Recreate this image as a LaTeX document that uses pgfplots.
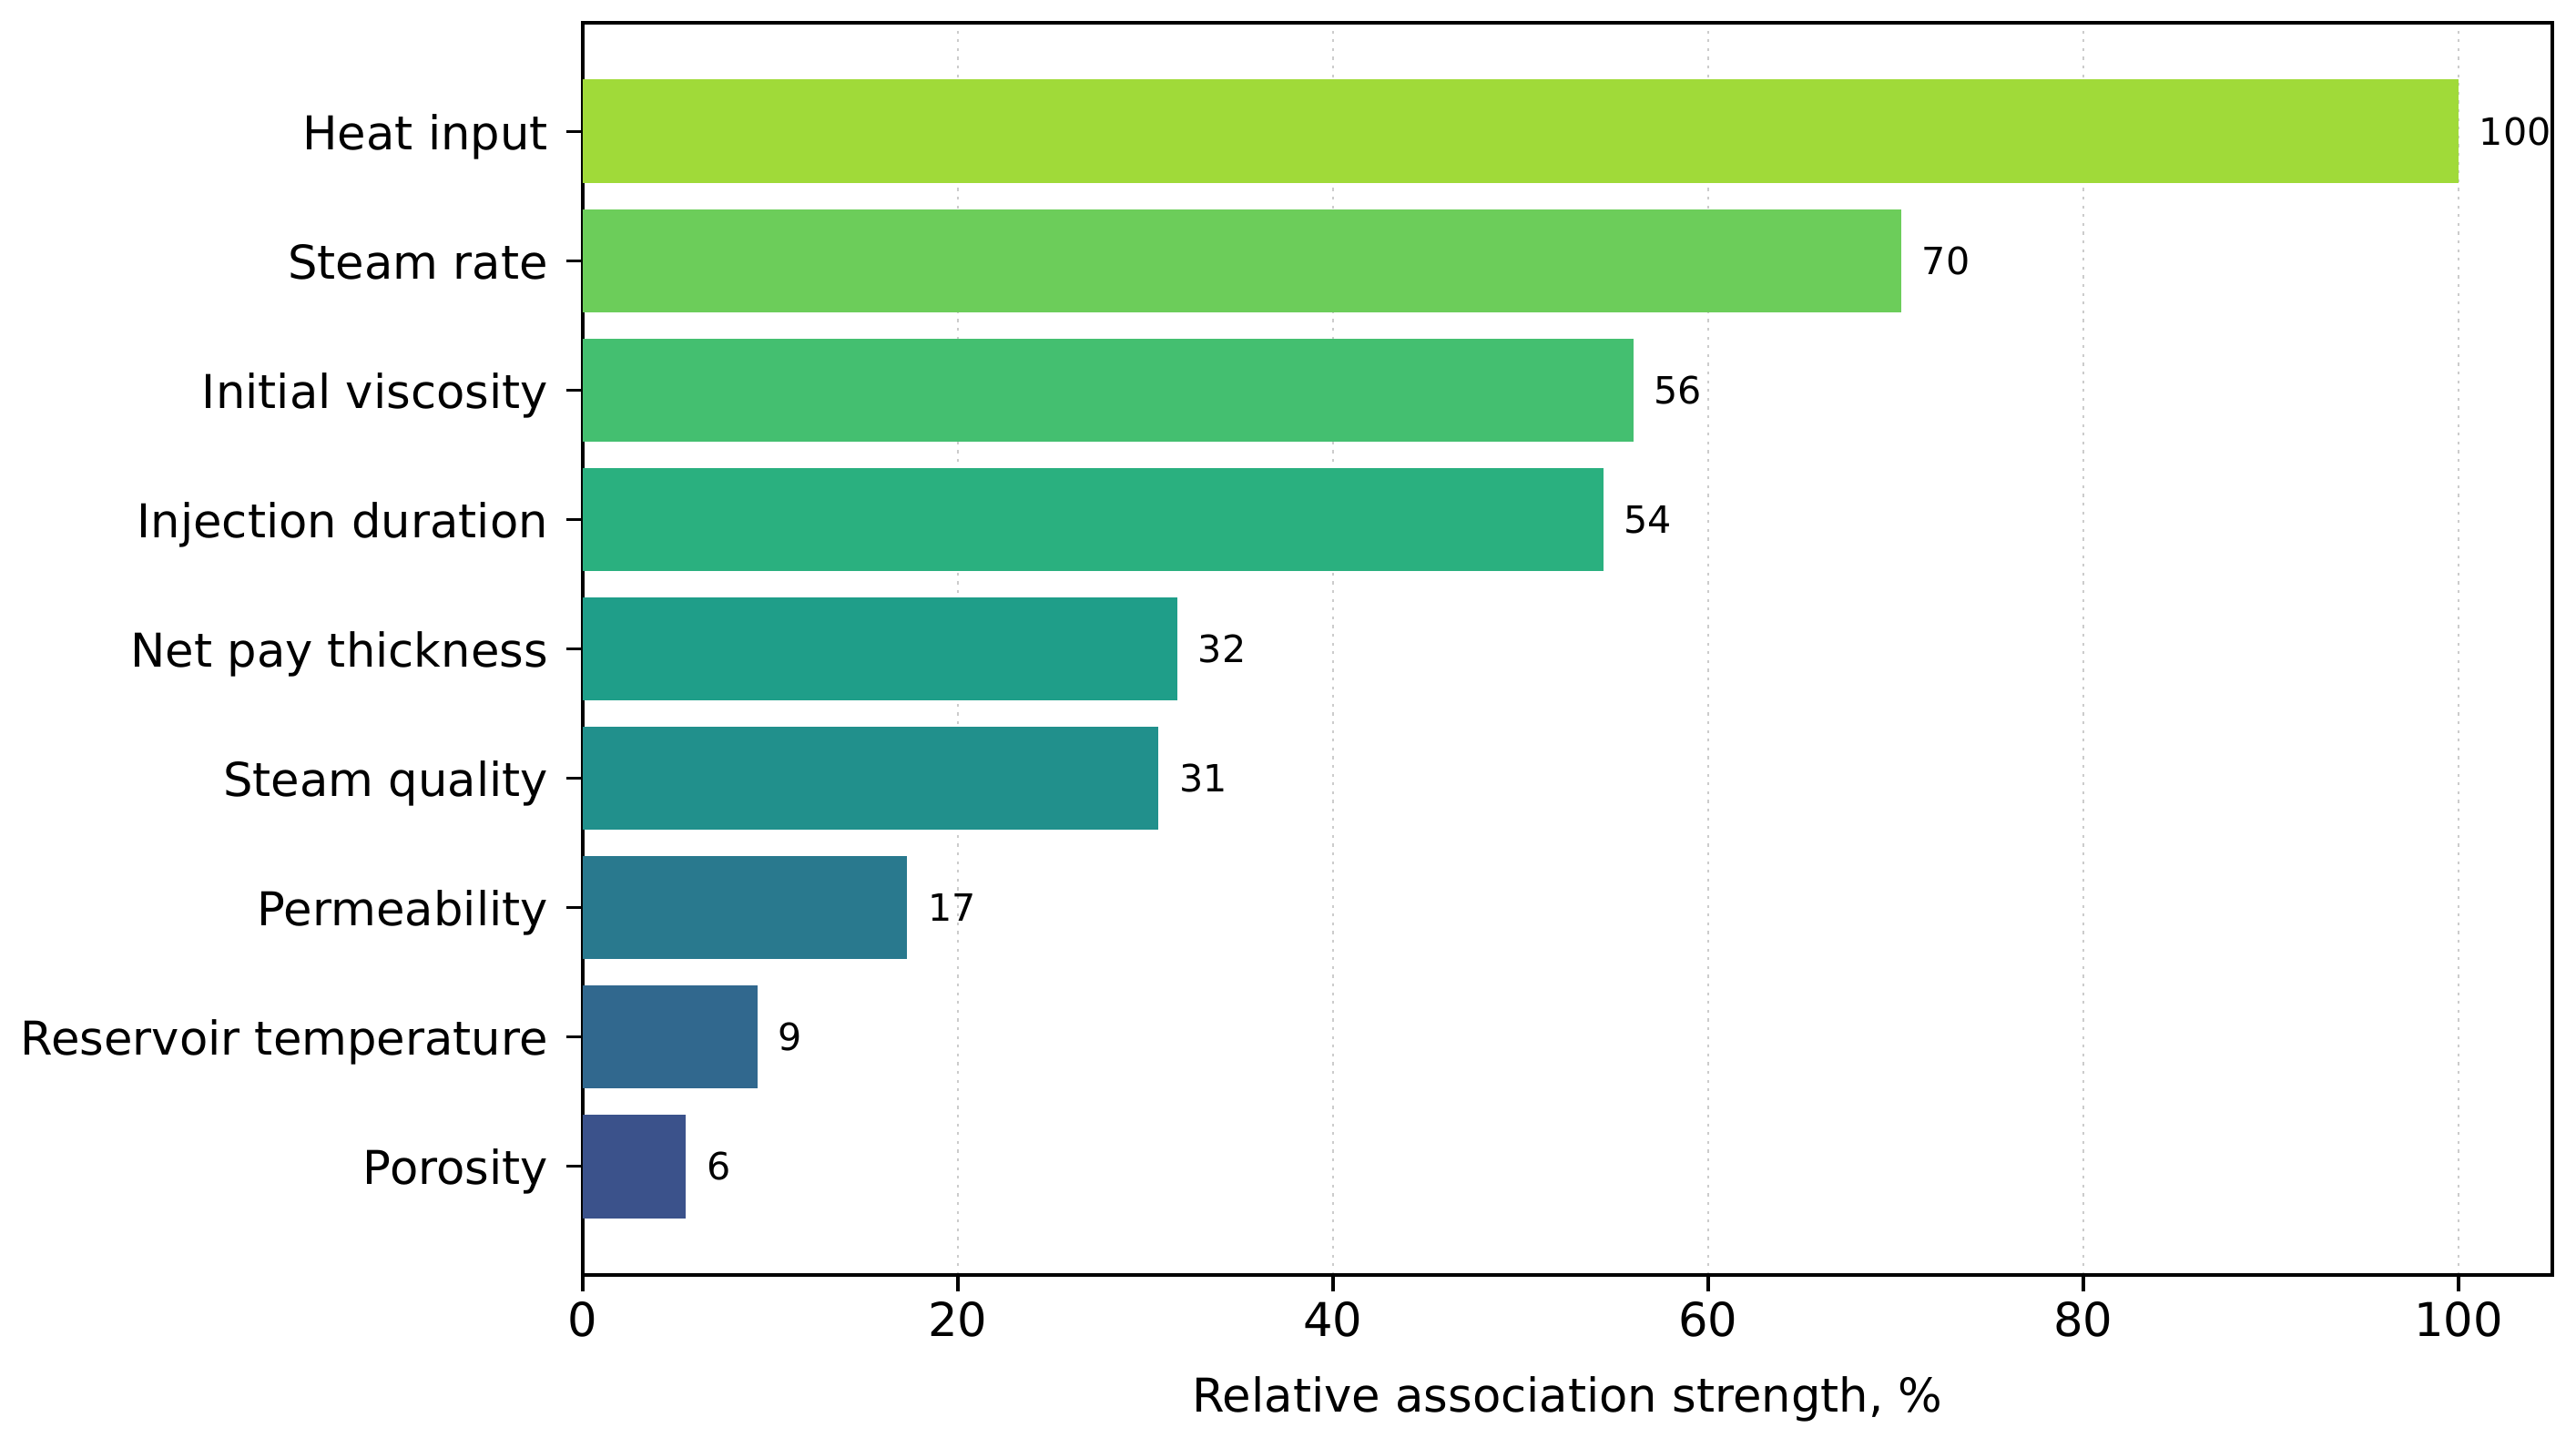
\documentclass[border=0pt]{standalone}
\usepackage{pgfplots}
\pgfplotsset{compat=1.18}
\usepackage{fontspec}
\setmainfont{DejaVu Sans}
\definecolor{c0}{HTML}{3B528B}
\definecolor{c1}{HTML}{31688E}
\definecolor{c2}{HTML}{29798E}
\definecolor{c3}{HTML}{21908C}
\definecolor{c4}{HTML}{1F9E89}
\definecolor{c5}{HTML}{2AB07F}
\definecolor{c6}{HTML}{44BF70}
\definecolor{c7}{HTML}{6CCD5A}
\definecolor{c8}{HTML}{A0DA39}
\begin{document}
\begin{tikzpicture}
\path[use as bounding box] (-160pt,-44.5pt) rectangle (547.25pt,350pt);
\begin{axis}[
  at={(0,0)}, anchor=south west,
  scale only axis, width=540.75pt, height=343.75pt,
  xbar, bar width=0.8, bar shift=0pt,
  xmin=0, xmax=105, ymin=-0.84, ymax=8.84,
  xtick={0,20,40,60,80,100},
  ytick={0,...,8},
  yticklabels={Porosity,Reservoir temperature,Permeability,Steam quality,Net pay thickness,Injection duration,Initial viscosity,Steam rate,Heat input},
  tick align=outside, tick pos=left,
  major tick length=4.5pt,
  every tick/.style={black, line width=0.8pt},
  axis line style={black, line width=0.85pt},
  /pgf/number format/assume math mode=true,
  tick label style={font=\fontsize{12.8}{15}\selectfont},
  yticklabel style={anchor=base east, yshift=-5pt, xshift=-1.5pt},
  xticklabel style={yshift=0.75pt},
  xlabel={Relative association strength, \%},
  xlabel style={font=\fontsize{12.8}{15}\selectfont, at={(axis description cs:0.5,0)}, anchor=base, yshift=-37.5pt},
  xmajorgrids=true,
  major grid style={gray!40, line width=0.4pt, dash pattern=on 0.8pt off 1.6pt},
  point meta=explicit symbolic,
  nodes near coords,
  every node near coord/.append style={font=\fontsize{10.3}{12}\selectfont, anchor=west, inner sep=0pt, xshift=5.5pt, text=black},
]
\addplot[fill=c0, draw=none] coordinates {(5.5,0) [6]};
\addplot[fill=c1, draw=none] coordinates {(9.3,1) [9]};
\addplot[fill=c2, draw=none] coordinates {(17.3,2) [17]};
\addplot[fill=c3, draw=none] coordinates {(30.7,3) [31]};
\addplot[fill=c4, draw=none] coordinates {(31.7,4) [32]};
\addplot[fill=c5, draw=none] coordinates {(54.4,5) [54]};
\addplot[fill=c6, draw=none] coordinates {(56.0,6) [56]};
\addplot[fill=c7, draw=none] coordinates {(70.3,7) [70]};
\addplot[fill=c8, draw=none] coordinates {(100,8) [100]};
\end{axis}
\end{tikzpicture}
\end{document}
